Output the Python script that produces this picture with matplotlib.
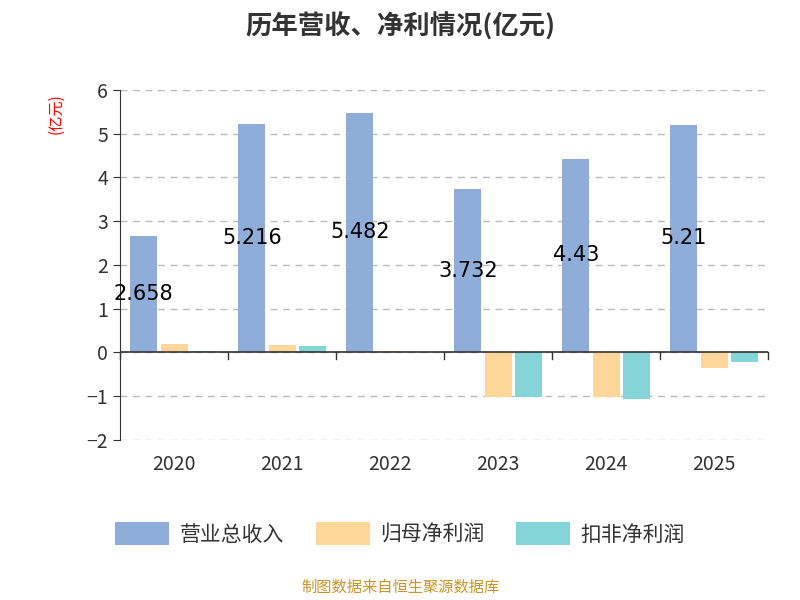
import matplotlib
matplotlib.use("Agg")
import matplotlib.pyplot as plt
import numpy as np

plt.rcParams["font.family"] = ["Noto Sans CJK SC", "DejaVu Sans"]

years = ["2020", "2021", "2022", "2023", "2024", "2025"]
revenue = [2.658, 5.216, 5.482, 3.732, 4.43, 5.21]
net_profit = [0.18, 0.16, 0.02, -1.02, -1.03, -0.35]
deducted_profit = [0.03, 0.14, 0.0, -1.03, -1.06, -0.21]
series_names = ["营业总收入", "归母净利润", "扣非净利润"]
colors = ["#8eaed9", "#fdd79a", "#84d4d8"]

fig = plt.figure(figsize=(8, 6), dpi=100)
ax = fig.add_axes([0.15, 0.267, 0.81, 0.583])

x = np.arange(len(years))
w = 0.25
off = 0.28
bars = []
for i, vals in enumerate([revenue, net_profit, deducted_profit]):
    bars.append(ax.bar(x + (i - 1) * off, vals, w, color=colors[i], label=series_names[i], zorder=3))

for xi, v in zip(x, revenue):
    ax.text(xi - off, v / 2, f"{v:g}", ha="center", va="center", fontsize=15, color="black", zorder=4,
            family="DejaVu Sans")

ax.set_xlim(-0.5, len(years) - 0.5)
ax.set_ylim(-2, 6)
ax.set_yticks(range(-2, 7))
ax.tick_params(axis="y", labelsize=14, colors="#333333", length=5)
ax.yaxis.grid(True, linestyle=(0, (5, 4)), color="#bbbbbb", linewidth=1)
ax.set_axisbelow(True)
ax.set_xticks(x)
ax.set_xticklabels(years, fontsize=14, color="#333333")
ax.tick_params(axis="x", length=0, pad=10)
for s in ["top", "right", "bottom"]:
    ax.spines[s].set_visible(False)
ax.spines["left"].set_color("#333333")
ax.axhline(0, color="#333333", linewidth=1.2, zorder=5)
for b in np.arange(-0.5, len(years), 1.0):
    ax.plot([b, b], [0, -0.15], color="#333333", linewidth=1, zorder=5, clip_on=False)

fig.text(0.07, 0.81, "(亿元)", rotation=90, color="red", fontsize=11, ha="center", va="center")
fig.text(0.5, 0.955, "历年营收、净利情况(亿元)", fontsize=19, fontweight="bold", ha="center", va="center",
         color="#333333")
leg = fig.legend(loc="center", bbox_to_anchor=(0.5, 0.11), ncol=3, frameon=False, fontsize=15,
                 handlelength=2.6, handleheight=1.3, columnspacing=1.5, handletextpad=0.5)
for t in leg.get_texts():
    t.set_color("#333333")
fig.text(0.5, 0.022, "制图数据来自恒生聚源数据库", fontsize=11, color="#c8962a", ha="center", va="center")

fig.savefig("out.png", dpi=100)
